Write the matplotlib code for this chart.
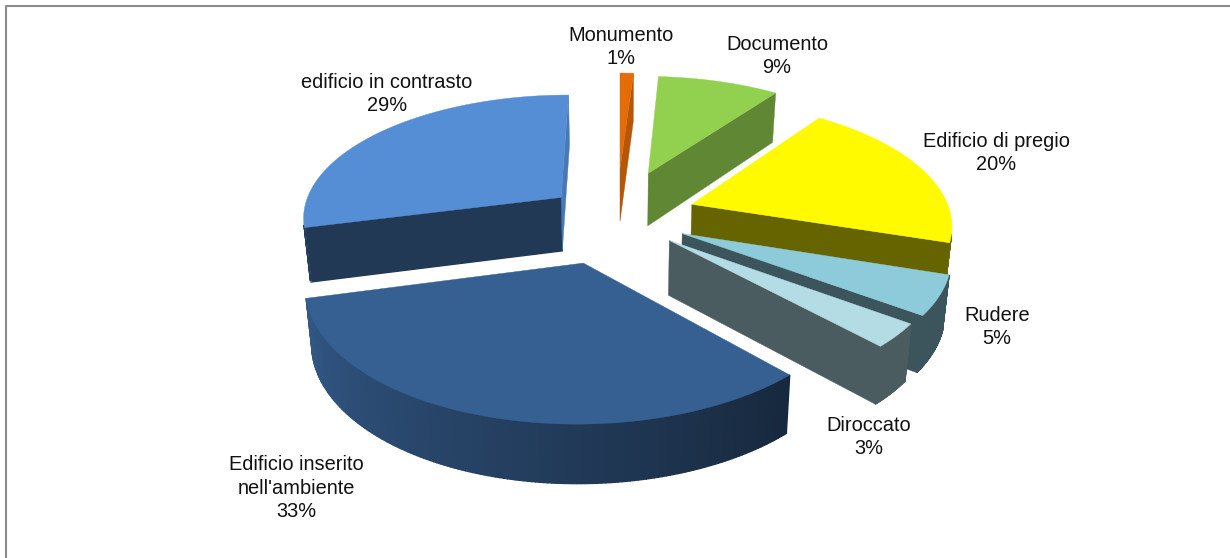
import matplotlib
matplotlib.use('Agg')
import matplotlib.pyplot as plt
import numpy as np
from matplotlib.colors import to_rgb
from matplotlib.lines import Line2D

plt.rcParams['font.family'] = ['Liberation Sans', 'DejaVu Sans']

# slices, clockwise from twelve o'clock
labels = ['Monumento', 'Documento', 'Edificio di pregio', 'Rudere', 'Diroccato',
          'Edificio inserito\nnell\'ambiente', 'edificio in contrasto']
percent = [1, 9, 20, 5, 3, 33, 29]
colors = ['#E36C09', '#92D050', '#FFFA00', '#8ECBDA', '#B3DCE5', '#376092', '#558ED5']
end_shade = [0.8, 0.65, 0.4, 0.42, 0.42, 0.4, 0.85]
# how far each slice is pulled out of the pie, in units of the radius
pull_x = [0.0, 0.115, 0.281, 0.235, 0.185, -0.134, -0.232]
pull_y = [-0.40, -0.36, -0.089, 0.149, 0.2025, 0.373, -0.147]
label_pos = [(621, 47), (777, 56), (996, 153), (997, 327), (869, 437), (296, 488), (387, 94)]

# camera settings for the tilted pie, in pixels
ox, oy = 620, 215
scale = 259
tilt = 0.471
persp = 0.145
depth = 54


def project(X, Y, low=False):
    w = 1 - persp * Y
    px = ox + scale * X / w
    py = oy + scale * tilt * Y / w
    if low:
        px = ox + (px - ox) * 0.98
        py = py + depth + 4 * Y
    return px, py


def shade(col, f):
    return tuple(c * f for c in to_rgb(col))


def rim_factor(theta):
    if theta > 255.6:
        return 0.42
    return np.clip(0.42 + (theta - 137) / 118 * 0.5, 0.42, 0.92)


def draw_slice(ax, start, end, col, wall, dx, dy, z):
    t = np.radians(np.linspace(start, end, 160))
    X = np.concatenate([[dx], dx + np.sin(t)])
    Y = np.concatenate([[dy], dy - np.cos(t)])
    tx, ty = project(X, Y)
    bx, by = project(X, Y, low=True)

    # walls first, only the ones turned towards the viewer
    n = len(X)
    for i in range(n):
        j = (i + 1) % n
        xs = [tx[i], tx[j], bx[j], bx[i]]
        ys = [ty[i], ty[j], by[j], by[i]]
        area = sum(xs[k] * ys[(k + 1) % 4] - xs[(k + 1) % 4] * ys[k] for k in range(4))
        if area >= 0:
            continue
        if i == 0:
            f = 0.4
        elif j == 0:
            f = wall
        else:
            f = rim_factor(np.degrees(t[i - 1]))
        ax.fill(xs, ys, color=shade(col, f), lw=1.0 if j else 0.3, zorder=z)
    ax.fill(tx, ty, color=col, lw=0.3, zorder=z + 0.5)


fig = plt.figure(figsize=(12.3, 5.58), dpi=100)
ax = fig.add_axes([0, 0, 1, 1])
ax.set_xlim(0, 1230)
ax.set_ylim(558, 0)
ax.axis('off')

edges = np.cumsum([0] + percent) / sum(percent) * 360
order = [0, 1, 6, 2, 3, 4, 5]
for z, i in enumerate(order):
    draw_slice(ax, edges[i], edges[i + 1], colors[i], end_shade[i], pull_x[i], pull_y[i], z + 1)

for i, name in enumerate(labels):
    ax.text(label_pos[i][0], label_pos[i][1], '%s\n%d%%' % (name, percent[i]), ha='center', va='center',
            fontsize=14.4, linespacing=1.27, color='#111111', zorder=20)

# chart area border, top and left only
fig.add_artist(Line2D([6 / 1230, 6 / 1230, 1], [0, 1 - 6 / 558, 1 - 6 / 558], color='#8c8c8c', lw=1.5))

fig.savefig('out.png', dpi=100)
